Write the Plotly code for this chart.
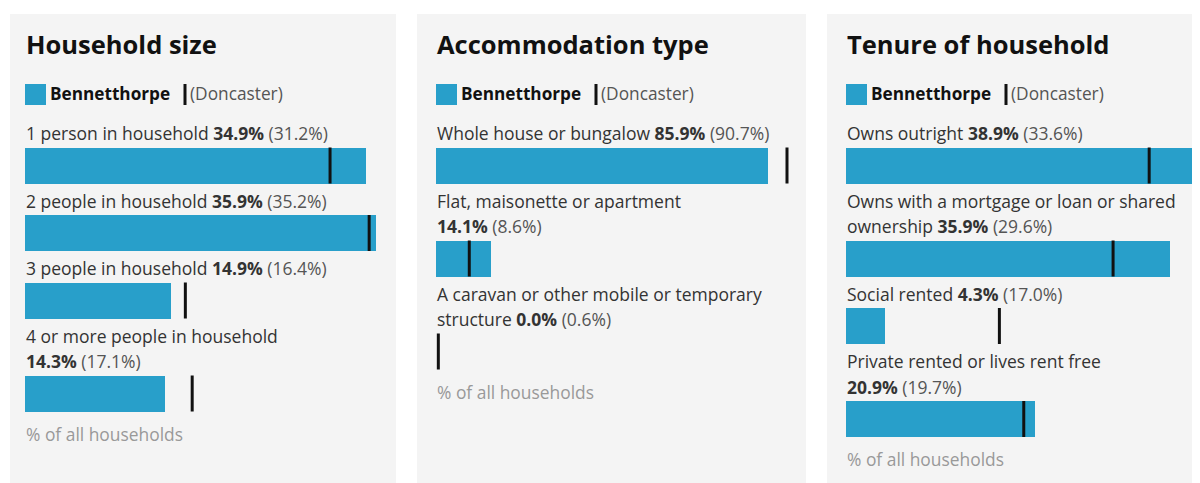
import plotly.graph_objects as go

W, H = 1200, 483

area_name = "Bennetthorpe"
compare_name = "Doncaster"

titles = ["Household size", "Accommodation type", "Tenure of household"]

size_labels = ["1 person in household", "2 people in household",
               "3 people in household", "4 or more people in household"]
size_area = [34.9, 35.9, 14.9, 14.3]
size_compare = [31.2, 35.2, 16.4, 17.1]

accom_labels = ["Whole house or bungalow", "Flat, maisonette or apartment",
                "A caravan or other mobile or temporary structure"]
accom_area = [85.9, 14.1, 0.0]
accom_compare = [90.7, 8.6, 0.6]

tenure_labels = ["Owns outright", "Owns with a mortgage or loan or shared ownership",
                 "Social rented", "Private rented or lives rent free"]
tenure_area = [38.9, 35.9, 4.3, 20.9]
tenure_compare = [33.6, 29.6, 17.0, 19.7]

footer = "% of all households"

panels = [
    (titles[0], size_labels, size_area, size_compare),
    (titles[1], accom_labels, accom_area, accom_compare),
    (titles[2], tenure_labels, tenure_area, tenure_compare),
]

# pixel layout (page coordinates; the page body adds an 8px margin)
OFF = 8
panel_bg = [(10, 396), (417, 806), (827, 1210)]
bar_left = [25, 436, 846]
plot_w = 351
bar_h = 36
line_h = 25.5
first_label = 133
label_to_bar = 32.5
bar_to_label = 35
bar_to_footer = 40

BAR = "#289fca"
BG = "#f4f4f4"
TXT = "#333333"
SUB = "#555555"
FONT = "Open Sans"


def px(x):
    return (x - OFF) / W


def py(y):
    return 1 - (y - OFF) / H


def strip_tags(s):
    out, skip = "", False
    for ch in s:
        if ch == "<":
            skip = True
        elif ch == ">":
            skip = False
        elif not skip:
            out += ch
    return out


def wrap(label, value_block, limit=39):
    # the value block never breaks, it moves to the next line as a whole
    words = label.split() + [value_block]
    lines, cur = [], ""
    for w in words:
        if cur and len(strip_tags(cur)) + 1 + len(strip_tags(w)) > limit:
            lines.append(cur)
            cur = w
        else:
            cur = (cur + " " if cur else "") + w
    lines.append(cur)
    return lines


def text(s, x, y, size, color, bold=False):
    return dict(text=f"<b>{s}</b>" if bold else s, x=px(x), y=py(y),
                xref="paper", yref="paper", xanchor="left", yanchor="middle",
                showarrow=False, font=dict(family=FONT, size=size, color=color))


fig = go.Figure()
shapes = []
annotations = []

for i, (title, labels, area, comp) in enumerate(panels):
    x0 = bar_left[i]
    xa = "x" if i == 0 else f"x{i + 1}"
    ya = "y" if i == 0 else f"y{i + 1}"

    shapes.append(dict(type="rect", xref="paper", yref="paper", layer="below",
                       x0=px(panel_bg[i][0]), x1=min(px(panel_bg[i][1]), 1.0), y0=-0.1, y1=py(14),
                       fillcolor=BG, line_width=0))

    annotations.append(text(title, x0 - 1, 44, 25.5, "#111111", bold=True))

    # legend
    shapes.append(dict(type="rect", xref="paper", yref="paper",
                       x0=px(x0), x1=px(x0 + 21), y0=py(105), y1=py(84),
                       fillcolor=BAR, line_width=0))
    annotations.append(text(area_name, x0 + 23, 94, 17.2, "#111111", bold=True))
    shapes.append(dict(type="line", xref="paper", yref="paper",
                       x0=px(x0 + 160), x1=px(x0 + 160), y0=py(105), y1=py(84),
                       line=dict(color="#111111", width=3)))
    annotations.append(text(f"({compare_name})", x0 + 163, 94, 17.3, SUB))

    y = first_label
    centers = []
    for lab, a, c in zip(labels, area, comp):
        block = f"<b>{a:.1f}%</b> <span style='color:{SUB}'>({c:.1f}%)</span>"
        lines = wrap(lab, block)
        for k, ln in enumerate(lines):
            annotations.append(text(ln, x0 - 1, y + k * line_h, 17.5, TXT))
        bar_y = y + (len(lines) - 1) * line_h + label_to_bar
        centers.append(bar_y)
        y = bar_y + bar_to_label

    annotations.append(text(footer, x0 - 1, centers[-1] + bar_to_footer, 17.4, "#999999"))

    fig.add_trace(go.Bar(x=area, y=centers, orientation="h", width=bar_h,
                         marker=dict(color=BAR, line_width=0), xaxis=xa, yaxis=ya,
                         hoverinfo="x", showlegend=False))
    # line-ns spans 1.4 * size in total, so this covers the bar height
    fig.add_trace(go.Scatter(x=comp, y=centers, mode="markers", xaxis=xa, yaxis=ya,
                             marker=dict(symbol="line-ns", size=bar_h / 1.4,
                                         line=dict(color="#111111", width=3)),
                             cliponaxis=False, hoverinfo="x", showlegend=False))

    xmax = max(area + comp)
    axis_x = dict(domain=[px(x0), px(x0 + plot_w)], range=[0, xmax], visible=False,
                  fixedrange=True, anchor=ya)
    axis_y = dict(domain=[0, 1], range=[H + OFF, OFF], visible=False, fixedrange=True, anchor=xa)
    key = "" if i == 0 else str(i + 1)
    fig.update_layout({f"xaxis{key}": axis_x, f"yaxis{key}": axis_y})

fig.update_layout(
    width=W, height=H,
    margin=dict(l=0, r=0, t=0, b=0),
    paper_bgcolor="white", plot_bgcolor="rgba(0,0,0,0)",
    shapes=shapes, annotations=annotations,
    bargap=0, font=dict(family=FONT),
)

fig.write_html("out.html")
